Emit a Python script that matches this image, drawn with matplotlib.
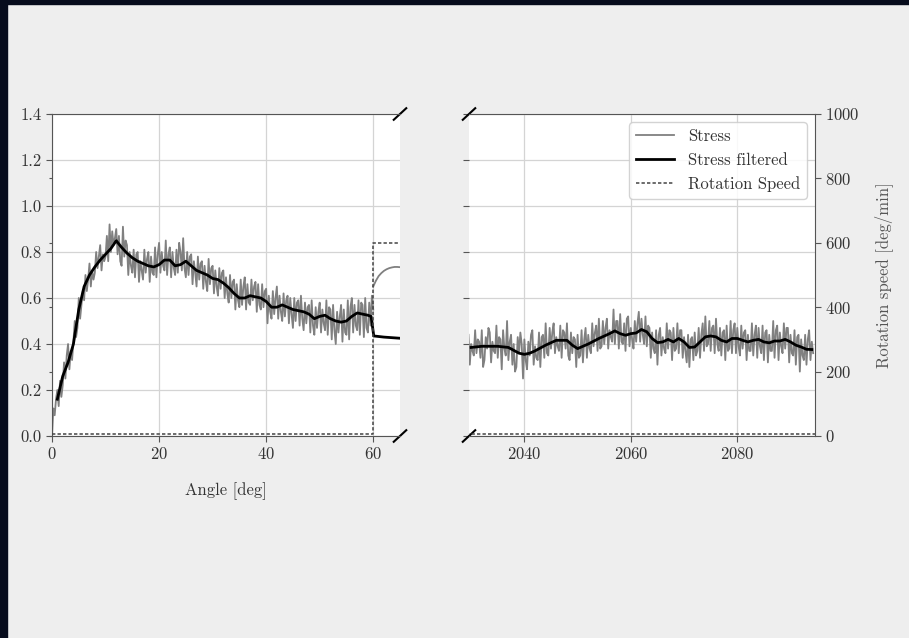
import numpy as np
import matplotlib
matplotlib.use("Agg")
import matplotlib.pyplot as plt
from matplotlib.patches import Rectangle

plt.rcParams['font.family'] = 'serif'
plt.rcParams['font.serif'] = ['cmr10', 'DejaVu Serif']
plt.rcParams['mathtext.fontset'] = 'cm'
plt.rcParams['axes.formatter.use_mathtext'] = True
plt.rcParams['axes.unicode_minus'] = False

# --- data ---
# raw stress, loading part (4 samples per degree, 0 .. 60 deg)
stress_load = [
    0.00, 0.12, 0.09, 0.16,  0.20, 0.13, 0.24, 0.17,  0.22, 0.32, 0.25, 0.35,
    0.40, 0.29, 0.37, 0.33,  0.41, 0.50, 0.43, 0.47,  0.60, 0.51, 0.57, 0.63,
    0.59, 0.70, 0.63, 0.68,  0.75, 0.65, 0.72, 0.68,  0.71, 0.80, 0.73, 0.78,
    0.83, 0.72, 0.79, 0.76,  0.78, 0.87, 0.76, 0.92,  0.80, 0.89, 0.83, 0.86,
    0.90, 0.79, 0.87, 0.76,  0.74, 0.91, 0.78, 0.85,  0.83, 0.70, 0.80, 0.74,
    0.71, 0.81, 0.69, 0.79,  0.80, 0.67, 0.76, 0.72,  0.68, 0.81, 0.71, 0.77,
    0.80, 0.67, 0.78, 0.71,  0.70, 0.82, 0.69, 0.79,  0.84, 0.71, 0.80, 0.74,
    0.72, 0.85, 0.70, 0.79,  0.82, 0.69, 0.80, 0.73,  0.70, 0.81, 0.71, 0.84,
    0.80, 0.72, 0.86, 0.73,  0.69, 0.80, 0.70, 0.78,  0.79, 0.66, 0.76, 0.71,
    0.65, 0.78, 0.68, 0.75,  0.76, 0.64, 0.74, 0.67,  0.63, 0.77, 0.66, 0.73,
    0.74, 0.62, 0.72, 0.65,  0.61, 0.73, 0.64, 0.71,  0.72, 0.60, 0.69, 0.62,
    0.58, 0.70, 0.60, 0.67,  0.68, 0.55, 0.66, 0.59,  0.56, 0.68, 0.57, 0.65,
    0.69, 0.55, 0.66, 0.58,  0.57, 0.68, 0.59, 0.65,  0.67, 0.54, 0.66, 0.57,
    0.55, 0.66, 0.56, 0.63,  0.64, 0.49, 0.61, 0.54,  0.51, 0.63, 0.53, 0.60,
    0.65, 0.51, 0.61, 0.54,  0.50, 0.62, 0.52, 0.59,  0.61, 0.49, 0.60, 0.53,
    0.47, 0.60, 0.50, 0.58,  0.59, 0.48, 0.61, 0.51,  0.46, 0.58, 0.49, 0.56,
    0.57, 0.45, 0.59, 0.48,  0.44, 0.56, 0.47, 0.54,  0.58, 0.45, 0.55, 0.49,
    0.46, 0.59, 0.44, 0.56,  0.55, 0.42, 0.57, 0.46,  0.40, 0.54, 0.45, 0.52,
    0.57, 0.41, 0.55, 0.45,  0.44, 0.59, 0.42, 0.56,  0.60, 0.45, 0.57, 0.48,
    0.46, 0.59, 0.44, 0.58,  0.57, 0.43, 0.60, 0.47,  0.45, 0.58, 0.48, 0.61,
    0.55,
]
angle_load = np.linspace(0, 60, len(stress_load))

# raw stress after the loading stops
angle_tail = [60.0, 60.5, 61.0, 61.5, 62.0, 62.5, 63.0, 63.5, 64.0, 64.5, 65.0]
stress_tail = [0.65, 0.675, 0.695, 0.708, 0.718, 0.725, 0.730, 0.733, 0.735, 0.735, 0.734]

# filtered stress, left part
angle_filt = [1, 2, 3, 4, 5, 6, 7, 8, 9, 10, 11, 12, 13, 14, 15, 16, 17, 18, 19, 20,
              21, 22, 23, 24, 25, 26, 27, 28, 29, 30, 31, 32, 33, 34, 35, 36, 37, 38,
              39, 40, 41, 42, 43, 44, 45, 46, 47, 48, 49, 50, 51, 52, 53, 54, 55, 56,
              57, 58, 59, 59.6, 60.1, 62, 65]
stress_filt = [0.16, 0.26, 0.32, 0.40, 0.55, 0.65, 0.70, 0.735, 0.765, 0.79, 0.815,
               0.849, 0.82, 0.795, 0.775, 0.76, 0.75, 0.74, 0.735, 0.745, 0.765, 0.765,
               0.74, 0.745, 0.76, 0.74, 0.72, 0.71, 0.70, 0.685, 0.68, 0.665, 0.645,
               0.62, 0.60, 0.60, 0.61, 0.605, 0.60, 0.585, 0.56, 0.56, 0.57, 0.56,
               0.55, 0.545, 0.54, 0.53, 0.51, 0.52, 0.525, 0.51, 0.50, 0.495, 0.50,
               0.52, 0.535, 0.53, 0.525, 0.52, 0.435, 0.43, 0.425]

# raw stress, later part (4 samples per degree from 2029.5)
stress_late = [
    0.44, 0.31, 0.40, 0.37,  0.35, 0.46, 0.36, 0.42,  0.41, 0.34, 0.46, 0.30,
    0.33, 0.43, 0.38, 0.47,  0.45, 0.32, 0.41, 0.37,  0.36, 0.48, 0.34, 0.43,
    0.42, 0.29, 0.46, 0.38,  0.35, 0.50, 0.33, 0.41,  0.44, 0.31, 0.40, 0.28,
    0.30, 0.43, 0.36, 0.45,  0.40, 0.25, 0.42, 0.33,  0.29, 0.41, 0.35, 0.44,
    0.46, 0.31, 0.39, 0.34,  0.33, 0.45, 0.30, 0.43,  0.44, 0.34, 0.49, 0.36,
    0.35, 0.47, 0.38, 0.45,  0.49, 0.36, 0.43, 0.39,  0.37, 0.48, 0.34, 0.46,
    0.45, 0.38, 0.49, 0.35,  0.33, 0.45, 0.36, 0.43,  0.42, 0.30, 0.44, 0.34,
    0.35, 0.46, 0.32, 0.42,  0.47, 0.34, 0.44, 0.38,  0.36, 0.49, 0.39, 0.45,
    0.48, 0.37, 0.51, 0.38,  0.39, 0.50, 0.40, 0.47,  0.51, 0.38, 0.46, 0.43,
    0.41, 0.55, 0.40, 0.50,  0.50, 0.38, 0.53, 0.41,  0.40, 0.49, 0.37, 0.51,
    0.52, 0.39, 0.47, 0.42,  0.38, 0.50, 0.41, 0.49,  0.54, 0.41, 0.51, 0.44,
    0.40, 0.52, 0.39, 0.48,  0.47, 0.34, 0.45, 0.38,  0.36, 0.46, 0.31, 0.44,
    0.47, 0.35, 0.43, 0.38,  0.36, 0.49, 0.38, 0.46,  0.45, 0.33, 0.47, 0.37,
    0.38, 0.49, 0.36, 0.46,  0.46, 0.34, 0.43, 0.37,  0.32, 0.44, 0.30, 0.42,
    0.43, 0.33, 0.45, 0.35,  0.37, 0.47, 0.34, 0.44,  0.49, 0.37, 0.52, 0.39,
    0.40, 0.50, 0.37, 0.47,  0.48, 0.36, 0.51, 0.40,  0.37, 0.47, 0.35, 0.45,
    0.46, 0.33, 0.48, 0.37,  0.38, 0.50, 0.36, 0.46,  0.49, 0.36, 0.47, 0.39,
    0.35, 0.48, 0.38, 0.45,  0.46, 0.33, 0.44, 0.37,  0.37, 0.49, 0.35, 0.44,
    0.48, 0.34, 0.47, 0.39,  0.36, 0.48, 0.33, 0.45,  0.46, 0.32, 0.44, 0.37,
    0.37, 0.50, 0.34, 0.46,  0.48, 0.33, 0.45, 0.39,  0.36, 0.49, 0.38, 0.47,
    0.47, 0.32, 0.44, 0.36,  0.35, 0.46, 0.31, 0.43,  0.44, 0.28, 0.42, 0.35,
    0.33, 0.44, 0.31, 0.42,  0.46, 0.33, 0.41, 0.36,
]
angle_late = 2029.5 + 0.25 * np.arange(len(stress_late))

# filtered stress, later part
angle_filt_late = [2030, 2032, 2035, 2037, 2039, 2040, 2041, 2042, 2044, 2046, 2048, 2049,
                   2050, 2052, 2054, 2056, 2057, 2058, 2059, 2060, 2061, 2062, 2063, 2064,
                   2065, 2066, 2067, 2068, 2069, 2070, 2071, 2072, 2073, 2074, 2075, 2076,
                   2077, 2078, 2079, 2080, 2081, 2082, 2083, 2084, 2085, 2086, 2087, 2088,
                   2089, 2090, 2091, 2092, 2093, 2094]
stress_filt_late = [0.385, 0.39, 0.39, 0.385, 0.36, 0.355, 0.36, 0.37, 0.395, 0.416, 0.416,
                    0.395, 0.38, 0.40, 0.424, 0.445, 0.457, 0.445, 0.438, 0.445, 0.448,
                    0.463, 0.453, 0.424, 0.406, 0.409, 0.42, 0.409, 0.424, 0.409, 0.385,
                    0.387, 0.409, 0.431, 0.435, 0.431, 0.416, 0.409, 0.424, 0.424, 0.416,
                    0.409, 0.416, 0.42, 0.409, 0.405, 0.413, 0.413, 0.42, 0.409, 0.395,
                    0.387, 0.377, 0.376]

# rotation speed [deg/min]
angle_speed = [0, 60, 60, 65]
speed = [6, 6, 600, 600]
angle_speed_late = [2029, 2095]
speed_late = [6, 6]

# --- figure ---
fig = plt.figure(figsize=(9.09, 6.38), dpi=100, facecolor='#eeeeee')
fig.patches.append(Rectangle((0, 0), 7 / 909, 1, transform=fig.transFigure,
                             color='#070c1c', zorder=0))
fig.patches.append(Rectangle((0, 1 - 4 / 638), 1, 4 / 638, transform=fig.transFigure,
                             color='#070c1c', zorder=0))

ax1 = fig.add_axes([52 / 909, 1 - 436 / 638, 348 / 909, 322 / 638])
ax2 = fig.add_axes([469 / 909, 1 - 436 / 638, 346 / 909, 322 / 638])
ax1t = ax1.twinx()
ax2t = ax2.twinx()

gray = '#808080'
spine_c = '#555555'
text_c = '#333333'
dash = (0, (2.2, 1.4))

ax1.plot(angle_load, stress_load, color=gray, lw=1.3)
ax1.plot(angle_tail, stress_tail, color=gray, lw=1.3)
ax1.plot(angle_filt, stress_filt, color='black', lw=2)
ax1t.plot(angle_speed, speed, color='#444444', lw=1.1, ls=dash)

l1, = ax2.plot(angle_late, stress_late, color=gray, lw=1.3, label='Stress')
l2, = ax2.plot(angle_filt_late, stress_filt_late, color='black', lw=2, label='Stress filtered')
l3, = ax2t.plot(angle_speed_late, speed_late, color='#444444', lw=1.1, ls=dash,
                label='Rotation Speed')

for a in (ax1, ax2):
    a.set_ylim(0, 1.4)
    a.set_yticks(np.arange(0, 1.41, 0.2))
    a.grid(True, color='#d4d4d4', lw=0.9)
    a.set_axisbelow(True)
    a.tick_params(colors=spine_c, labelcolor=text_c, labelsize=12, length=4)
    for s in a.spines.values():
        s.set_color(spine_c)
for a in (ax1t, ax2t):
    a.set_ylim(0, 1000)
    a.set_yticks(np.arange(0, 1001, 200))
    for s in a.spines.values():
        s.set_visible(False)

ax1.set_xlim(0, 65)
ax1.set_xticks([0, 20, 40, 60])
ax1.spines['right'].set_visible(False)
ax1.set_xlabel('Angle [deg]', fontsize=12, color=text_c, labelpad=14)
ax1.yaxis.set_major_formatter(matplotlib.ticker.FormatStrFormatter('%.1f'))
ax1t.yaxis.tick_left()
ax1t.tick_params(axis='y', labelleft=False, length=2.5, colors=spine_c)

ax2.set_xlim(2029.6, 2094.6)
ax2.set_xticks([2040, 2060, 2080])
ax2.spines['left'].set_visible(False)
ax2.spines['right'].set_visible(False)
ax2.tick_params(axis='y', labelleft=False)
ax2t.spines['right'].set_visible(True)
ax2t.spines['right'].set_color(spine_c)
ax2t.tick_params(axis='y', colors=spine_c, labelcolor=text_c, labelsize=12, length=4)
ax2t.set_ylabel('Rotation speed [deg/min]', fontsize=12, color='#555555', labelpad=10)

# break marks
d = 0.018
kw = dict(color='black', lw=1.5, clip_on=False)
ax1.plot([1 - d, 1 + d], [-d, d], transform=ax1.transAxes, **kw)
ax1.plot([1 - d, 1 + d], [1 - d, 1 + d], transform=ax1.transAxes, **kw)
ax2.plot([-d, d], [-d, d], transform=ax2.transAxes, **kw)
ax2.plot([-d, d], [1 - d, 1 + d], transform=ax2.transAxes, **kw)

leg = ax2t.legend(handles=[l1, l2, l3], loc='upper right', fontsize=12,
                  handlelength=2.3, borderaxespad=0.5, framealpha=0.85,
                  edgecolor='#cccccc')
for t in leg.get_texts():
    t.set_color(text_c)

fig.savefig('out.png', dpi=100, facecolor=fig.get_facecolor())
